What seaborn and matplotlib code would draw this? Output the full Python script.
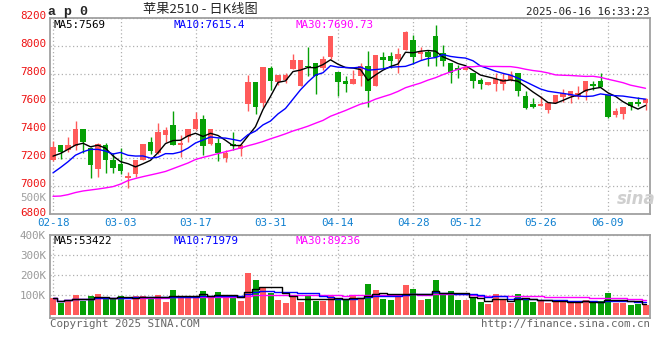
import numpy as np
import pandas as pd
import seaborn as sns
import matplotlib.pyplot as plt
from matplotlib.transforms import ScaledTranslation

# daily bars, 2025-02-18 .. 2025-06-16 (80 sessions)
opens = [7186, 7290, 7257, 7286, 7405, 7269, 7121, 7290, 7190, 7157,
         7057, 7086, 7186, 7314, 7233, 7364, 7433, 7290, 7352, 7405,
         7476, 7300, 7310, 7202, 7298, 7262, 7586, 7740, 7590, 7840,
         7740, 7757, 7831, 7714, 7852, 7876, 7840, 7921, 7814, 7750,
         7726, 7786, 7857, 7710, 7919, 7929, 7905, 7967, 8038, 7943,
         7955, 8071, 7948, 7876, 7840, 7824, 7805, 7757, 7721, 7726,
         7726, 7757, 7805, 7643, 7586, 7574, 7543, 7590, 7633, 7643,
         7638, 7669, 7726, 7752, 7650, 7507, 7512, 7602, 7598, 7595]
highs = [7321, 7290, 7352, 7464, 7405, 7281, 7305, 7305, 7233, 7269,
         7102, 7190, 7298, 7348, 7448, 7424, 7533, 7364, 7405, 7526,
         7507, 7405, 7340, 7257, 7386, 7298, 7793, 7745, 7845, 7852,
         7793, 7805, 7938, 7898, 7988, 7876, 7926, 8069, 7814, 7781,
         7829, 7876, 7960, 7936, 7952, 7952, 7983, 8102, 8074, 7988,
         7967, 8145, 8002, 7876, 7864, 7857, 7805, 7769, 7740, 7805,
         7805, 7821, 7805, 7681, 7626, 7643, 7602, 7650, 7690, 7681,
         7714, 7752, 7750, 7805, 7650, 7555, 7562, 7602, 7638, 7626]
lows = [7180, 7193, 7240, 7257, 7238, 7057, 7062, 7095, 7095, 7086,
        6990, 7062, 7186, 7226, 7226, 7317, 7290, 7210, 7317, 7400,
        7219, 7290, 7179, 7171, 7257, 7214, 7536, 7512, 7567, 7686,
        7721, 7733, 7831, 7710, 7781, 7655, 7829, 7905, 7643, 7667,
        7726, 7714, 7567, 7710, 7840, 7840, 7805, 7967, 7871, 7900,
        7852, 7852, 7857, 7733, 7769, 7824, 7698, 7690, 7721, 7679,
        7686, 7750, 7643, 7548, 7555, 7571, 7524, 7590, 7602, 7595,
        7619, 7610, 7686, 7705, 7483, 7495, 7476, 7543, 7571, 7543]
closes = [7276, 7243, 7290, 7405, 7314, 7150, 7300, 7186, 7129, 7110,
          7076, 7186, 7298, 7250, 7383, 7400, 7293, 7310, 7405, 7476,
          7286, 7405, 7233, 7233, 7286, 7293, 7740, 7567, 7845, 7750,
          7793, 7793, 7898, 7898, 7845, 7781, 7905, 8069, 7740, 7729,
          7762, 7852, 7679, 7936, 7900, 7893, 7940, 8098, 7917, 7955,
          7919, 7917, 7893, 7805, 7829, 7845, 7750, 7726, 7740, 7764,
          7764, 7788, 7679, 7555, 7567, 7586, 7590, 7650, 7662, 7681,
          7662, 7752, 7714, 7705, 7490, 7536, 7562, 7571, 7586, 7619]
volumes = [83, 60, 75, 100, 70, 95, 105, 83, 83, 95,
           75, 95, 95, 90, 100, 65, 125, 95, 83, 95,
           120, 83, 115, 92, 95, 72, 212, 175, 142, 108,
           75, 62, 98, 67, 100, 72, 72, 95, 75, 75,
           100, 78, 155, 125, 80, 75, 95, 150, 130, 75,
           80, 175, 100, 120, 75, 75, 92, 65, 55, 105,
           75, 62, 105, 80, 67, 68, 62, 75, 67, 62,
           60, 75, 60, 70, 112, 62, 62, 50, 55, 50]  # thousands

# moving-average values before a full window is available
ma5_head = [7214, 7233, 7262, 7293]
ma10_head = [7095, 7133, 7174, 7221, 7245, 7262, 7262, 7250, 7229]
ma30_head = [6928, 6930, 6940, 6955, 6966, 6973, 6980, 6988, 6997, 7015,
             7040, 7055, 7068, 7080, 7092, 7105, 7125, 7145, 7165, 7190,
             7205, 7218, 7232, 7245, 7258, 7272, 7288, 7302, 7318]

date_labels = ["02-18", "03-03", "03-17", "03-31", "04-14",
               "04-28", "05-12", "05-26", "06-09"]
date_pos = [0, 9, 19, 29, 38, 48, 55, 65, 74]
price_ticks = [6800, 7000, 7200, 7400, 7600, 7800, 8000, 8200]
vol_ticks = [100, 200, 300, 400]
vol_tick_labels = ["100K", "200K", "300K", "400K"]

RED = "#ff5a5a"
GREEN = "#06a006"
GRID = "#b0b0b0"
FRAME = "#a0a0a0"

df = pd.DataFrame({"idx": np.arange(len(closes)), "open": opens, "high": highs,
                   "low": lows, "close": closes, "vol": volumes})
df["dir"] = np.where(df["close"] >= df["open"], "up", "down")
colors = np.where(df["dir"] == "up", RED, GREEN)


def moving_avg(series, n, head):
    out = series.rolling(n).mean().to_numpy()
    out[:len(head)] = head
    return out


df["ma5"] = moving_avg(df["close"], 5, ma5_head)
df["ma10"] = moving_avg(df["close"], 10, ma10_head)
df["ma30"] = moving_avg(df["close"], 30, ma30_head)
df["vma5"] = df["vol"].rolling(5, min_periods=1).mean()
df["vma10"] = df["vol"].rolling(10, min_periods=1).mean()
df["vma30"] = df["vol"].rolling(30, min_periods=1).mean()

sns.set_theme(style="white")
plt.rcParams["font.family"] = ["DejaVu Sans Mono", "Noto Sans CJK SC"]

W, H = 660, 360
fig = plt.figure(figsize=(6.6, 3.6), dpi=100)
ax = fig.add_axes([50 / W, 1 - 214.3 / H, 600 / W, (214.3 - 17.6) / H])
axv = fig.add_axes([50 / W, 1 - 318 / H, 600 / W, (318 - 234.7) / H])

# candles
ax.vlines(df["idx"], df["low"], df["high"], colors=colors, lw=1, zorder=3)
body_bottom = np.minimum(df["open"], df["close"])
body_h = np.maximum((df["close"] - df["open"]).abs(), 6)
ax.bar(df["idx"], body_h, bottom=body_bottom, width=0.75, color=colors,
       linewidth=0, zorder=4)

sns.lineplot(data=df, x="idx", y="ma5", ax=ax, color="black", lw=1, zorder=5)
sns.lineplot(data=df, x="idx", y="ma10", ax=ax, color="#0000ff", lw=1, zorder=5)
sns.lineplot(data=df, x="idx", y="ma30", ax=ax, color="#ff00ff", lw=1, zorder=5)

# volume
axv.bar(df["idx"], df["vol"], width=0.8, color=colors, linewidth=0, zorder=3)
for col, c in [("vma30", "#ff00ff"), ("vma10", "#0000ff"), ("vma5", "black")]:
    sns.lineplot(data=df, x="idx", y=col, ax=axv, color=c, lw=1,
                 drawstyle="steps-mid", zorder=5)

for a in (ax, axv):
    a.set_xlim(-0.4, 79.6)
    a.set_xlabel("")
    a.set_ylabel("")
    a.set_xticks(date_pos)
    a.grid(True, color=GRID, ls=(0, (1, 2)), lw=0.9)
    a.set_axisbelow(True)
    a.tick_params(length=0, pad=3, labelsize=7.8)
    for s in a.spines.values():
        s.set_color(FRAME)
        s.set_linewidth(1.3)

ax.set_ylim(6800, 8200)
ax.set_yticks(price_ticks)
ax.set_yticklabels([str(t) for t in price_ticks], color="#ee1111")
ax.set_xticklabels(date_labels, color="#1080d0")
ax.tick_params(axis="x", pad=3)
shift_up = ScaledTranslation(0, 2 / 72, fig.dpi_scale_trans)
for lab in ax.get_yticklabels():
    lab.set_transform(lab.get_transform() + shift_up)

axv.set_ylim(-15, 401.5)
axv.set_yticks(vol_ticks)
axv.set_yticklabels(vol_tick_labels, color="#999999")
axv.set_xticklabels([])

# texts
fig.text(48 / W, 1 - 11.5 / H, "a p 0", family="Liberation Mono", weight="bold",
         size=9.5, va="center")
fig.text(200 / W, 1 - 10 / H, "苹果2510 - 日K线图",
         family=["Noto Sans CJK SC", "DejaVu Sans"], size=9.5, ha="center", va="center")
fig.text(649 / W, 1 - 12 / H, "2025-06-16 16:33:23", size=7.8, ha="right", va="center")

fig.text(54 / W, 1 - 25 / H, "MA5:7569", size=7.8, color="black", va="center")
fig.text(174 / W, 1 - 25 / H, "MA10:7615.4", size=7.8, color="#0000ff", va="center")
fig.text(295 / W, 1 - 25 / H, "MA30:7690.73", size=7.8, color="#ff00ff", va="center")
fig.text(54 / W, 1 - 241 / H, "MA5:53422", size=7.8, color="black", va="center")
fig.text(174 / W, 1 - 241 / H, "MA10:71979", size=7.8, color="#0000ff", va="center")
fig.text(295 / W, 1 - 241 / H, "MA30:89236", size=7.8, color="#ff00ff", va="center")

fig.text(46 / W, 1 - 198 / H, "500K", size=7.8, color="#a0a0a0", ha="right", va="center")
fig.text(636 / W, 1 - 199 / H, "sina", size=12, color="#cfcfcf", weight="bold",
         style="italic", family="DejaVu Sans", ha="center", va="center")

fig.text(50 / W, 1 - 324 / H, "Copyright 2025 SINA.COM", size=7.8, color="#666666",
         va="center")
fig.text(650 / W, 1 - 324 / H, "http://finance.sina.com.cn", size=7.8, color="#666666",
         ha="right", va="center")

fig.savefig("out.png", dpi=100, facecolor="white")
